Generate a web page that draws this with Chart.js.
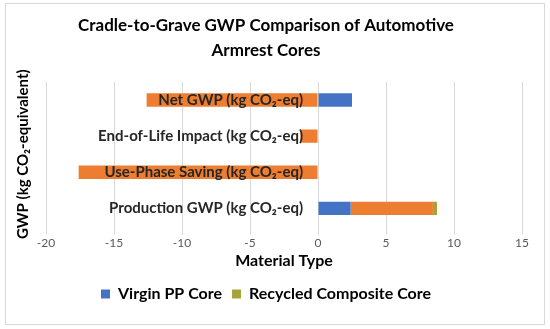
<!DOCTYPE html>
<html>
<head>
<meta charset="utf-8">
<script src="https://cdn.jsdelivr.net/npm/chart.js@4/dist/chart.umd.min.js"></script>
<style>
  html, body { margin: 0; padding: 0; background: #fff; }
  #wrap { width: 550px; height: 329px; position: relative; }
</style>
</head>
<body>
<div id="wrap"><canvas id="gwp-chart"></canvas></div>
<script>
const categories = ['Net GWP (kg CO₂-eq)', 'End-of-Life Impact (kg CO₂-eq)', 'Use-Phase Saving (kg CO₂-eq)', 'Production GWP (kg CO₂-eq)'];
const virginPP = [2.5, 0, 0, 2.4];
const recycledNet = [-12.6, -1.3, -17.6, 6.05];
const recycledComposite = [0, 0, 0, 0.3];
const xTicks = [-20, -15, -10, -5, 0, 5, 10, 15];

const fontFam = 'Lato, "Liberation Sans", sans-serif';

// light frame round the whole chart
const framePlugin = {
    id: 'frame',
    beforeDraw: (chart) => {
        const ctx = chart.ctx;
        ctx.save();
        ctx.fillStyle = '#fff';
        ctx.fillRect(0, 0, chart.width, chart.height);
        ctx.strokeStyle = '#d9d9d9';
        ctx.lineWidth = 1;
        ctx.strokeRect(5.5, 3.5, 539, 321);
        ctx.restore();
    }
};

const ctx = document.getElementById('gwp-chart');
new Chart(ctx, {
    type: 'bar',
    data: {
        labels: categories,
        datasets: [{
            label: 'Virgin PP Core',
            data: virginPP,
            backgroundColor: '#4472C4',
            barPercentage: 0.37,
            categoryPercentage: 1
        }, {
            label: 'Recycled Composite (net)',
            data: recycledNet,
            backgroundColor: '#ED7D31',
            barPercentage: 0.37,
            categoryPercentage: 1
        }, {
            label: 'Recycled Composite Core',
            data: recycledComposite,
            backgroundColor: '#A5A538',
            barPercentage: 0.37,
            categoryPercentage: 1
        }]
    },
    options: {
        indexAxis: 'y',
        responsive: true,
        maintainAspectRatio: false,
        animation: false,
        layout: { padding: { left: 10, right: 28, top: 2, bottom: 17 } },
        plugins: {
            title: {
                display: true,
                text: ['Cradle-to-Grave GWP Comparison of Automotive', 'Armrest Cores'],
                color: '#000',
                font: { family: fontFam, size: 17, weight: 'bold', lineHeight: 1.47 },
                padding: { top: 11, bottom: 19 }
            },
            legend: {
                position: 'bottom',
                labels: {
                    filter: (item) => item.text !== 'Recycled Composite (net)',
                    boxWidth: 9,
                    boxHeight: 9,
                    padding: 10,
                    color: '#000',
                    font: { family: fontFam, size: 16, weight: 'bold' }
                }
            },
            tooltip: { enabled: false }
        },
        scales: {
            x: {
                stacked: true,
                min: -20,
                max: 15,
                afterBuildTicks: (scale) => {
                    scale.ticks = xTicks.map(v => ({ value: v }));
                },
                grid: { color: '#d9d9d9', drawTicks: true },
                border: { display: false },
                ticks: { color: '#595959', padding: 2, font: { family: fontFam, size: 12 } },
                title: {
                    display: true,
                    text: 'Material Type',
                    color: '#000',
                    font: { family: fontFam, size: 16, weight: 'bold' },
                    padding: { top: -2, bottom: 6 }
                }
            },
            y: {
                stacked: true,
                // labels sit just left of the zero line
                position: { x: -1.1 },
                grid: { display: false },
                border: { display: false },
                ticks: { z: 1, autoSkip: false, color: '#262626', font: { family: fontFam, size: 15, weight: 'bold' } }
            },
            y2: {
                type: 'category',
                position: 'left',
                grid: { display: false, drawTicks: false },
                border: { display: false },
                ticks: { display: false },
                title: {
                    display: true,
                    text: 'GWP (kg CO₂-equivalent)',
                    color: '#000',
                    font: { family: fontFam, size: 15, weight: 'bold' },
                    padding: { top: 4, bottom: 14 }
                }
            }
        }
    },
    plugins: [framePlugin]
});
</script>
</body>
</html>
